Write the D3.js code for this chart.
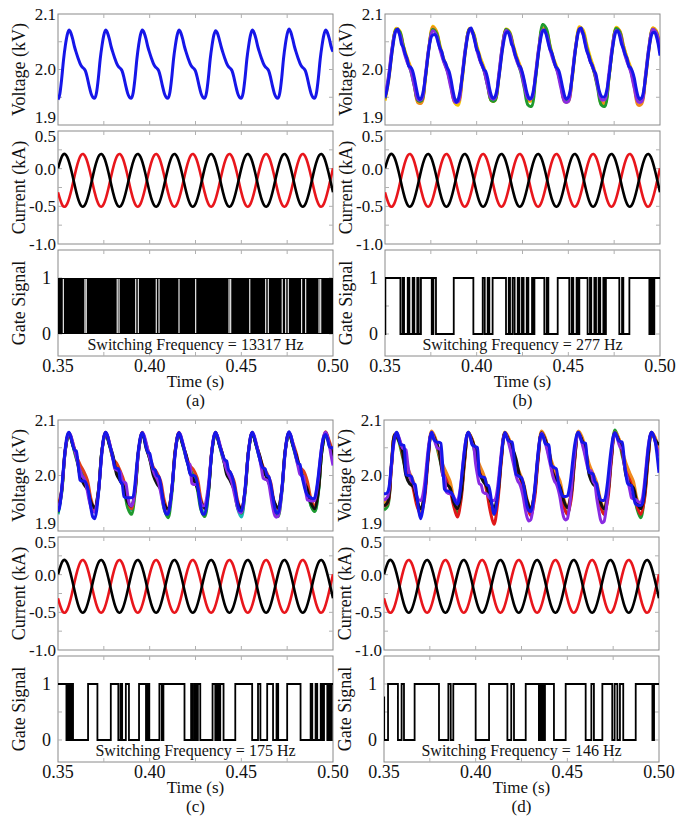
<!DOCTYPE html>
<html>
<head>
<meta charset="utf-8">
<script src="https://cdn.jsdelivr.net/npm/d3@7"></script>
<style>
  body { margin: 0; background: #fff; }
  svg { display: block; }
  text { font-family: "Liberation Serif", "Times New Roman", serif; fill: #111; }
</style>
</head>
<body>
<script>
// ---- shared axis values ----
const timeStart = 0.35, timeEnd = 0.50;
const fineStep = 0.001, coarseStep = 0.002, currentStep = 0.0025;
const xTickValues = [0.35, 0.40, 0.45, 0.50];
const voltTickValues = [1.9, 2.0, 2.1];
const currTickValues = [0.5, 0.0, -0.5, -1.0];
const gateTickValues = [0, 1];
const panelLabels = ['(a)', '(b)', '(c)', '(d)'];
const switchingFreqHz = [13317, 277, 175, 146];

// ---- currents (kA), sampled every 2.5 ms, same in all four panels ----
const currBlack = [
  0.004, 0.178, 0.157, -0.047, -0.314, -0.488, -0.467, -0.263,
  0.004, 0.178, 0.157, -0.047, -0.314, -0.488, -0.467, -0.263,
  0.004, 0.178, 0.157, -0.047, -0.314, -0.488, -0.467, -0.263,
  0.004, 0.178, 0.157, -0.047, -0.314, -0.488, -0.467, -0.263,
  0.004, 0.178, 0.157, -0.047, -0.314, -0.488, -0.467, -0.263,
  0.004, 0.178, 0.157, -0.047, -0.314, -0.488, -0.467, -0.263,
  0.004, 0.178, 0.157, -0.047, -0.314, -0.488, -0.467, -0.263,
  0.004, 0.178, 0.157, -0.047, -0.314];
const currRed = [
  -0.314, -0.488, -0.467, -0.263, 0.004, 0.178, 0.157, -0.047,
  -0.314, -0.488, -0.467, -0.263, 0.004, 0.178, 0.157, -0.047,
  -0.314, -0.488, -0.467, -0.263, 0.004, 0.178, 0.157, -0.047,
  -0.314, -0.488, -0.467, -0.263, 0.004, 0.178, 0.157, -0.047,
  -0.314, -0.488, -0.467, -0.263, 0.004, 0.178, 0.157, -0.047,
  -0.314, -0.488, -0.467, -0.263, 0.004, 0.178, 0.157, -0.047,
  -0.314, -0.488, -0.467, -0.263, 0.004, 0.178, 0.157, -0.047,
  -0.314, -0.488, -0.467, -0.263, 0.004];

// ---- voltages (kV): blue/purple every 1 ms, others every 2 ms ----
const voltA_blue = [
  1.946,1.956,1.983,2.017,2.043,2.062,2.071,2.066,2.055,2.041,2.030,2.020,2.011,2.005,2.002,1.997,1.985,1.970,1.957,1.950,
  1.948,1.958,1.984,2.018,2.043,2.062,2.071,2.066,2.055,2.041,2.030,2.020,2.011,2.005,2.002,1.997,1.985,1.970,1.957,1.950,
  1.948,1.958,1.984,2.018,2.044,2.063,2.071,2.066,2.055,2.041,2.030,2.020,2.011,2.005,2.002,1.997,1.985,1.970,1.957,1.950,
  1.948,1.958,1.984,2.018,2.043,2.062,2.071,2.066,2.055,2.041,2.030,2.020,2.011,2.005,2.002,1.997,1.985,1.970,1.957,1.950,
  1.948,1.958,1.984,2.018,2.043,2.062,2.070,2.065,2.054,2.041,2.030,2.020,2.011,2.005,2.002,1.997,1.985,1.970,1.957,1.950,
  1.948,1.958,1.984,2.018,2.043,2.062,2.071,2.066,2.055,2.041,2.030,2.020,2.011,2.005,2.002,1.997,1.985,1.970,1.957,1.950,
  1.948,1.958,1.984,2.019,2.045,2.064,2.073,2.067,2.055,2.041,2.030,2.020,2.011,2.005,2.002,1.997,1.985,1.970,1.957,1.950,
  1.948,1.958,1.984,2.018,2.043,2.062,2.071,2.066,2.055,2.041,2.032];

const voltB_blue = [
  1.950,1.962,1.982,2.008,2.035,2.057,2.070,2.073,2.062,2.046,2.040,2.028,2.020,2.006,2.004,1.998,1.985,1.968,1.952,1.946,
  1.950,1.963,1.985,2.012,2.038,2.056,2.062,2.063,2.060,2.048,2.038,2.032,2.018,2.012,2.003,1.996,1.982,1.963,1.948,1.941,
  1.947,1.962,1.983,2.010,2.037,2.058,2.072,2.075,2.064,2.050,2.036,2.030,2.016,2.008,2.000,1.996,1.984,1.966,1.953,1.948,
  1.951,1.962,1.982,2.008,2.034,2.054,2.066,2.068,2.060,2.046,2.040,2.026,2.018,2.008,2.004,1.994,1.980,1.964,1.952,1.947,
  1.950,1.963,1.984,2.010,2.036,2.057,2.069,2.071,2.062,2.048,2.036,2.030,2.018,2.006,2.002,1.996,1.982,1.966,1.952,1.947,
  1.950,1.962,1.983,2.011,2.038,2.060,2.073,2.075,2.064,2.048,2.034,2.026,2.014,2.008,1.998,1.992,1.975,1.960,1.952,1.950,
  1.952,1.963,1.983,2.009,2.035,2.056,2.068,2.070,2.060,2.046,2.038,2.027,2.020,2.006,2.003,1.996,1.984,1.966,1.952,1.947,
  1.949,1.960,1.982,2.010,2.037,2.057,2.066,2.067,2.060,2.046,2.025];
const voltB_orange = [
  1.946,1.984,2.038,2.072,2.066,2.042,2.020,2.002,1.972,1.940,
  1.940,1.984,2.040,2.076,2.068,2.040,2.018,1.998,1.970,1.942,
  1.942,1.983,2.038,2.073,2.066,2.040,2.016,2.000,1.972,1.944,
  1.945,1.985,2.040,2.072,2.065,2.042,2.020,2.002,1.975,1.946,
  1.946,1.986,2.040,2.074,2.068,2.040,2.018,1.998,1.972,1.944,
  1.944,1.984,2.040,2.075,2.068,2.040,2.016,1.996,1.970,1.942,
  1.940,1.982,2.038,2.073,2.070,2.044,2.020,2.000,1.968,1.936,
  1.938,1.980,2.036,2.074,2.068,2.035];
const voltB_yellow = [
  1.944,1.980,2.036,2.074,2.070,2.044,2.022,2.004,1.976,1.942,
  1.942,1.982,2.040,2.078,2.070,2.044,2.020,2.002,1.975,1.940,
  1.936,1.978,2.036,2.074,2.068,2.044,2.022,2.004,1.978,1.944,
  1.944,1.982,2.036,2.073,2.068,2.044,2.022,2.004,1.976,1.944,
  1.944,1.982,2.038,2.075,2.070,2.044,2.020,2.002,1.974,1.942,
  1.942,1.980,2.038,2.077,2.072,2.046,2.022,2.002,1.974,1.938,
  1.938,1.980,2.036,2.076,2.070,2.044,2.022,2.004,1.978,1.944,
  1.944,1.982,2.038,2.075,2.070,2.040];
const voltB_green = [
  1.948,1.986,2.040,2.072,2.068,2.042,2.016,1.998,1.970,1.944,
  1.944,1.986,2.040,2.072,2.066,2.040,2.016,1.998,1.972,1.946,
  1.946,1.986,2.040,2.072,2.066,2.040,2.016,1.998,1.970,1.944,
  1.944,1.986,2.040,2.072,2.066,2.040,2.016,1.996,1.966,1.936,
  1.934,1.980,2.040,2.081,2.074,2.042,2.016,1.998,1.972,1.944,
  1.946,1.986,2.040,2.072,2.066,2.040,2.016,1.996,1.966,1.936,
  1.934,1.980,2.038,2.074,2.068,2.040,2.016,1.998,1.972,1.944,
  1.944,1.986,2.040,2.072,2.066,2.036];
const voltB_purple = [
  1.950,1.990,2.042,2.070,2.064,2.036,2.014,1.998,1.970,1.946,
  1.946,1.990,2.042,2.070,2.062,2.036,2.014,1.996,1.966,1.942,
  1.942,1.988,2.042,2.071,2.064,2.036,2.014,1.998,1.970,1.948,
  1.948,1.990,2.042,2.070,2.064,2.036,2.014,1.998,1.970,1.948,
  1.948,1.990,2.042,2.071,2.064,2.036,2.014,1.996,1.966,1.942,
  1.942,1.988,2.042,2.071,2.064,2.036,2.014,1.998,1.970,1.946,
  1.946,1.990,2.042,2.070,2.064,2.036,2.014,1.996,1.966,1.942,
  1.942,1.988,2.042,2.072,2.066,2.036];

const voltC_blue = [
  1.935,1.945,1.975,2.015,2.050,2.072,2.078,2.070,2.056,2.046,2.044,2.020,1.992,1.990,1.990,1.988,1.980,1.965,1.940,1.925,
  1.922,1.935,1.965,2.005,2.045,2.070,2.078,2.072,2.058,2.045,2.030,2.015,2.013,2.012,1.990,1.985,1.962,1.960,1.960,1.960,
  1.960,1.962,1.985,2.020,2.050,2.070,2.077,2.068,2.052,2.042,2.040,2.025,2.012,2.010,2.000,1.998,1.985,1.962,1.940,1.930,
  1.930,1.945,1.972,2.008,2.042,2.068,2.077,2.070,2.058,2.045,2.030,2.018,2.003,2.000,2.000,1.998,1.985,1.962,1.940,1.930,
  1.930,1.945,1.972,2.010,2.045,2.070,2.078,2.070,2.056,2.045,2.035,2.028,2.026,2.010,2.006,1.998,1.985,1.968,1.948,1.937,
  1.936,1.948,1.975,2.012,2.046,2.070,2.078,2.070,2.057,2.043,2.030,2.018,2.013,2.012,2.000,1.998,1.985,1.965,1.945,1.933,
  1.932,1.945,1.972,2.010,2.046,2.070,2.079,2.072,2.058,2.045,2.032,2.022,2.020,2.000,1.985,1.972,1.965,1.962,1.960,1.958,
  1.960,1.975,2.000,2.030,2.055,2.070,2.074,2.066,2.052,2.050,2.050];
const voltC_purple = [
  1.945,1.950,1.972,2.010,2.046,2.068,2.076,2.072,2.060,2.046,2.034,2.020,2.010,2.000,1.996,1.988,1.972,1.955,1.942,1.935,
  1.934,1.945,1.968,2.005,2.042,2.068,2.077,2.072,2.060,2.046,2.030,2.012,2.010,2.008,2.006,1.990,1.988,1.986,1.965,1.948,
  1.945,1.952,1.975,2.010,2.045,2.068,2.077,2.072,2.060,2.046,2.032,2.020,2.008,2.000,1.994,1.985,1.970,1.953,1.940,1.932,
  1.932,1.946,1.972,2.008,2.043,2.068,2.077,2.072,2.060,2.046,2.030,2.022,2.020,1.986,1.984,1.984,1.983,1.965,1.950,1.945,
  1.946,1.958,1.982,2.015,2.048,2.070,2.077,2.071,2.060,2.046,2.032,2.020,2.010,2.002,1.995,1.985,1.970,1.955,1.942,1.934,
  1.933,1.945,1.972,2.010,2.045,2.069,2.077,2.072,2.060,2.045,2.030,2.012,1.995,1.993,1.992,1.985,1.965,1.945,1.930,1.925,
  1.926,1.940,1.968,2.006,2.043,2.068,2.077,2.072,2.060,2.046,2.030,2.015,2.002,2.000,1.998,1.975,1.956,1.955,1.954,1.954,
  1.955,1.970,1.995,2.028,2.056,2.072,2.078,2.070,2.055,2.035,2.018];
const voltC_orange = [
  1.945,1.974,2.048,2.077,2.060,2.036,2.020,2.008,1.992,1.958,
  1.938,1.970,2.046,2.078,2.060,2.030,2.022,2.008,1.990,1.955,
  1.940,1.972,2.048,2.078,2.058,2.035,2.015,2.005,1.990,1.955,
  1.938,1.972,2.048,2.078,2.058,2.035,2.018,2.010,1.995,1.958,
  1.940,1.972,2.048,2.078,2.058,2.035,2.015,2.005,1.990,1.955,
  1.938,1.972,2.048,2.078,2.058,2.035,2.015,2.004,1.988,1.952,
  1.940,1.972,2.048,2.078,2.060,2.040,2.015,2.008,1.990,1.958,
  1.945,1.975,2.050,2.079,2.062,2.040];
const voltC_green = [
  1.932,1.968,2.045,2.076,2.055,2.030,2.010,1.998,1.980,1.945,
  1.935,1.968,2.045,2.076,2.055,2.030,2.010,1.998,1.978,1.942,
  1.930,1.966,2.045,2.076,2.055,2.030,2.010,1.998,1.975,1.938,
  1.924,1.964,2.044,2.076,2.055,2.030,2.010,1.998,1.975,1.938,
  1.926,1.966,2.045,2.076,2.055,2.030,2.010,1.998,1.978,1.942,
  1.932,1.968,2.045,2.076,2.055,2.030,2.010,1.998,1.975,1.938,
  1.926,1.966,2.045,2.076,2.055,2.030,2.010,1.998,1.980,1.945,
  1.935,1.968,2.045,2.076,2.055,2.030];
const voltC_black = [
  1.935,1.972,2.046,2.077,2.056,2.036,2.000,1.985,1.975,1.952,
  1.942,1.972,2.046,2.077,2.056,2.036,2.002,1.990,1.978,1.952,
  1.945,1.974,2.046,2.077,2.050,2.030,2.000,1.985,1.975,1.948,
  1.940,1.972,2.046,2.077,2.056,2.036,2.005,1.992,1.978,1.952,
  1.942,1.972,2.046,2.077,2.056,2.036,2.002,1.990,1.975,1.950,
  1.940,1.972,2.046,2.077,2.056,2.036,2.010,1.995,1.978,1.952,
  1.942,1.972,2.046,2.077,2.056,2.036,2.012,1.990,1.975,1.950,
  1.940,1.972,2.046,2.077,2.056,2.036];
const voltC_cyan = [
  1.930,1.970,2.046,2.076,2.056,2.032,2.012,2.000,1.982,1.946,
  1.940,1.970,2.046,2.076,2.056,2.032,2.012,2.000,1.982,1.946,
  1.938,1.970,2.046,2.076,2.056,2.032,2.012,2.000,1.982,1.946,
  1.935,1.970,2.046,2.076,2.056,2.032,2.012,2.000,1.982,1.944,
  1.930,1.968,2.046,2.076,2.056,2.032,2.012,2.000,1.980,1.940,
  1.925,1.968,2.046,2.076,2.056,2.032,2.012,2.000,1.982,1.946,
  1.935,1.970,2.046,2.076,2.056,2.032,2.012,2.000,1.982,1.946,
  1.936,1.970,2.046,2.076,2.056,2.045];

const voltD_blue = [
  1.967,1.967,1.970,1.985,2.020,2.052,2.072,2.078,2.068,2.056,2.055,2.054,2.002,2.000,2.000,1.998,1.986,1.984,1.960,1.935,
  1.922,1.935,1.960,1.995,2.035,2.065,2.078,2.066,2.062,2.060,2.060,2.058,2.020,1.975,1.972,1.972,1.970,1.968,1.960,1.952,
  1.948,1.958,1.985,2.018,2.048,2.070,2.078,2.070,2.056,2.053,2.052,2.050,2.002,1.998,1.997,1.996,1.983,1.982,1.968,1.945,
  1.930,1.940,1.965,2.000,2.035,2.063,2.077,2.068,2.062,2.061,2.060,2.030,2.002,2.000,1.998,1.996,1.985,1.965,1.945,1.937,
  1.935,1.945,1.970,2.005,2.040,2.066,2.075,2.068,2.057,2.056,2.055,2.020,2.016,2.014,2.012,1.990,1.975,1.965,1.962,1.962,
  1.963,1.975,1.998,2.028,2.055,2.072,2.078,2.070,2.060,2.059,2.058,2.020,2.005,2.004,2.003,1.990,1.985,1.968,1.957,1.955,
  1.955,1.965,1.990,2.022,2.050,2.070,2.077,2.070,2.062,2.061,2.060,2.030,2.000,1.985,1.983,1.982,1.965,1.950,1.947,1.946,
  1.946,1.950,1.975,2.010,2.045,2.070,2.078,2.072,2.060,2.035,2.005];
const voltD_purple = [
  1.955,1.958,1.962,1.980,2.015,2.048,2.070,2.077,2.070,2.060,2.050,2.048,2.046,2.020,2.000,1.990,1.988,1.975,1.962,1.956,
  1.955,1.962,1.982,2.012,2.045,2.068,2.078,2.070,2.058,2.050,2.048,2.047,2.000,1.998,1.970,1.968,1.967,1.966,1.962,1.956,
  1.955,1.965,1.988,2.020,2.050,2.070,2.077,2.070,2.058,2.050,2.020,2.000,1.985,1.983,1.970,1.968,1.967,1.962,1.958,1.955,
  1.955,1.960,1.980,2.010,2.042,2.066,2.077,2.070,2.058,2.045,2.030,2.015,2.000,1.990,1.985,1.975,1.960,1.940,1.925,1.918,
  1.920,1.935,1.965,2.000,2.038,2.065,2.076,2.070,2.058,2.045,2.030,2.015,2.000,1.990,1.985,1.975,1.960,1.940,1.925,1.920,
  1.922,1.940,1.968,2.005,2.040,2.066,2.077,2.070,2.058,2.045,2.030,2.015,2.010,2.008,1.990,1.985,1.960,1.940,1.922,1.915,
  1.917,1.935,1.965,2.000,2.038,2.065,2.076,2.070,2.058,2.050,2.049,2.020,2.005,1.990,1.975,1.960,1.958,1.957,1.955,1.952,
  1.952,1.960,1.985,2.018,2.050,2.070,2.077,2.072,2.060,2.048,2.035];
const voltD_orange = [
  1.950,1.958,2.020,2.075,2.068,2.045,2.022,2.005,1.990,1.958,
  1.935,1.968,2.035,2.080,2.068,2.040,2.020,2.005,1.990,1.960,
  1.940,1.968,2.035,2.078,2.066,2.040,2.020,2.005,1.985,1.955,
  1.938,1.966,2.035,2.078,2.068,2.045,2.022,2.005,1.988,1.958,
  1.940,1.968,2.035,2.080,2.068,2.042,2.020,2.005,1.990,1.960,
  1.942,1.968,2.035,2.080,2.070,2.045,2.020,2.004,1.988,1.958,
  1.940,1.968,2.035,2.078,2.068,2.045,2.022,2.005,1.990,1.958,
  1.942,1.968,2.035,2.078,2.068,2.045];
const voltD_green = [
  1.938,1.945,2.015,2.074,2.062,2.035,2.010,1.998,1.980,1.950,
  1.932,1.962,2.030,2.078,2.062,2.035,2.010,1.998,1.980,1.950,
  1.930,1.962,2.030,2.078,2.062,2.035,2.010,1.998,1.980,1.948,
  1.930,1.960,2.030,2.078,2.062,2.035,2.010,1.998,1.980,1.950,
  1.932,1.962,2.030,2.078,2.062,2.035,2.010,1.998,1.978,1.946,
  1.930,1.962,2.030,2.078,2.062,2.035,2.010,1.998,1.980,1.950,
  1.930,1.962,2.032,2.082,2.066,2.035,2.010,1.998,1.975,1.940,
  1.924,1.958,2.030,2.078,2.062,2.035];
const voltD_red = [
  1.945,1.950,2.012,2.072,2.066,2.040,2.012,2.000,1.975,1.945,
  1.930,1.955,2.025,2.076,2.066,2.040,2.012,2.000,1.975,1.945,
  1.925,1.955,2.025,2.076,2.066,2.040,2.012,2.000,1.972,1.935,
  1.912,1.950,2.025,2.076,2.066,2.040,2.012,2.000,1.975,1.945,
  1.928,1.955,2.025,2.076,2.066,2.040,2.012,2.000,1.975,1.945,
  1.930,1.955,2.025,2.076,2.066,2.040,2.012,2.000,1.975,1.945,
  1.930,1.955,2.025,2.076,2.066,2.040,2.012,2.000,1.975,1.945,
  1.930,1.955,2.025,2.076,2.066,2.045];
const voltD_black = [
  1.945,1.952,2.015,2.074,2.064,2.045,2.000,1.985,1.980,1.955,
  1.940,1.965,2.032,2.077,2.064,2.045,2.002,1.985,1.978,1.952,
  1.940,1.965,2.032,2.077,2.064,2.045,2.005,1.990,1.980,1.955,
  1.942,1.965,2.032,2.077,2.064,2.050,2.030,2.000,1.985,1.955,
  1.940,1.965,2.032,2.077,2.064,2.045,2.005,1.990,1.980,1.955,
  1.942,1.965,2.032,2.077,2.064,2.045,2.000,1.985,1.978,1.952,
  1.940,1.965,2.032,2.077,2.064,2.045,2.000,1.985,1.978,1.952,
  1.940,1.965,2.032,2.077,2.064,2.055];

// ---- gate signals: [switch time (s), new level] ----
const gateA_span = [0.35, 0.50];
const gateA_gaps = [0.3529, 0.3647, 0.3654, 0.3823, 0.3833, 0.3924, 0.3938, 0.4036, 0.4051, 0.4160,
  0.4251, 0.4433, 0.4442, 0.4546, 0.4633, 0.4647, 0.4723, 0.4742, 0.4756, 0.4829, 0.4851, 0.4924, 0.4933];
const gateB = [[0.35,0],[0.3502,1],[0.3584,0],[0.3596,1],[0.3604,0],[0.3624,1],[0.3633,0],[0.3651,1],[0.3660,0],
  [0.3676,1],[0.3684,0],[0.3696,1],[0.3755,0],[0.3764,1],[0.3778,0],[0.3875,1],[0.3982,0],[0.4033,1],[0.4044,0],
  [0.4060,1],[0.4069,0],[0.4087,1],[0.4160,0],[0.4175,1],[0.4182,0],[0.4196,1],[0.4207,0],[0.4224,1],[0.4233,0],
  [0.4247,1],[0.4256,0],[0.4273,1],[0.4282,0],[0.4302,1],[0.4309,0],[0.4315,1],[0.4369,0],[0.4382,1],[0.4391,0],
  [0.4442,1],[0.4505,0],[0.4518,1],[0.4527,0],[0.4545,1],[0.4553,0],[0.4560,1],[0.4605,0],[0.4618,1],[0.4625,0],
  [0.4642,1],[0.4651,0],[0.4665,1],[0.4674,0],[0.4691,1],[0.4700,0],[0.4705,1],[0.4778,0],[0.4793,1],[0.4800,0],
  [0.4833,1],[0.4942,0],[0.4951,1],[0.4960,0],[0.4969,1],[0.50,1]];
const gateC = [[0.35,1],[0.3546,0],[0.3555,1],[0.3564,0],[0.3573,1],[0.3582,0],[0.3664,1],[0.3715,0],[0.3788,1],
  [0.3829,0],[0.3841,1],[0.3850,0],[0.3870,1],[0.3887,0],[0.3942,1],[0.3980,0],[0.3989,1],[0.3998,0],[0.4053,1],
  [0.4066,0],[0.4075,1],[0.4190,0],[0.4226,1],[0.4235,0],[0.4245,1],[0.4254,0],[0.4263,1],[0.4276,0],[0.4343,1],
  [0.4358,0],[0.4367,1],[0.4376,0],[0.4385,1],[0.4403,0],[0.4467,1],[0.4559,0],[0.4591,1],[0.4604,0],[0.4641,1],
  [0.4673,0],[0.4692,1],[0.4701,0],[0.4750,1],[0.4823,0],[0.4878,1],[0.4887,0],[0.4905,1],[0.4914,0],[0.4933,1],
  [0.4942,0],[0.4951,1],[0.4969,0],[0.4978,1],[0.4987,0],[0.4993,1],[0.50,1]];
const gateD = [[0.35,0.76],[0.3501,0],[0.3522,1],[0.3576,0],[0.3596,1],[0.3609,0],[0.3667,1],[0.3800,0],[0.3851,1],
  [0.3864,0],[0.3878,1],[0.4000,0],[0.4073,1],[0.4173,0],[0.4194,1],[0.4209,0],[0.4273,1],[0.4345,0],[0.4351,1],
  [0.4360,0],[0.4365,1],[0.4373,0],[0.4378,1],[0.4427,0],[0.4491,1],[0.4600,0],[0.4631,1],[0.4645,0],[0.4691,1],
  [0.4745,0],[0.4758,1],[0.4773,0],[0.4787,1],[0.4805,0],[0.4873,1],[0.4964,0],[0.4973,1],[0.50,1]];

// ---- layout ----
const W = 693, H = 820, plotW = 275;
const voltBox = [14, 125], currBox = [131, 244], gateBox = [250, 356];
const cBlue = '#1616e8', cPurple = '#8a2be2', cOrange = '#f08a1c', cYellow = '#f2c400',
      cGreen = '#1f9a2e', cRedV = '#e0401a', cCyan = '#1cb8b8';

const panels = [
  { x0: 58, y0: 0, volt: [{ v: voltA_blue, step: fineStep, c: cBlue }], gate: null },
  { x0: 385, y0: 0, volt: [
      { v: voltB_yellow, step: coarseStep, c: cYellow }, { v: voltB_orange, step: coarseStep, c: cOrange },
      { v: voltB_green, step: coarseStep, c: cGreen }, { v: voltB_purple, step: coarseStep, c: cPurple },
      { v: voltB_blue, step: fineStep, c: cBlue }], gate: gateB },
  { x0: 58, y0: 406, volt: [
      { v: voltC_cyan, step: coarseStep, c: cCyan }, { v: voltC_green, step: coarseStep, c: cGreen },
      { v: voltC_orange, step: coarseStep, c: cRedV }, { v: voltC_black, step: coarseStep, c: '#111' },
      { v: voltC_purple, step: fineStep, c: cPurple }, { v: voltC_blue, step: fineStep, c: cBlue }], gate: gateC },
  { x0: 384, y0: 406, volt: [
      { v: voltD_green, step: coarseStep, c: cGreen }, { v: voltD_red, step: coarseStep, c: '#e01818' },
      { v: voltD_orange, step: coarseStep, c: cOrange }, { v: voltD_black, step: coarseStep, c: '#111' },
      { v: voltD_purple, step: fineStep, c: cPurple }, { v: voltD_blue, step: fineStep, c: cBlue }], gate: gateD }
];

const svg = d3.select('body').append('svg').attr('width', W).attr('height', H);
let clipN = 0;

function series(values, step) {
  return values.map((v, i) => [timeStart + i * step, v]);
}

// grey frame with small inward ticks, returns a clipped group
function frame(g, x, y, box, yMinor) {
  g.append('rect').attr('x', 0).attr('y', box[0]).attr('width', plotW).attr('height', box[1] - box[0])
    .attr('fill', 'none').attr('stroke', '#8a8a8a').attr('stroke-width', 1);
  const minorX = [0.375, 0.40, 0.425, 0.45, 0.475];
  const tk = g.append('g').attr('stroke', '#b0b0b0').attr('stroke-width', 1);
  minorX.forEach(t => {
    tk.append('line').attr('x1', x(t)).attr('x2', x(t)).attr('y1', box[0]).attr('y2', box[0] + 4);
    tk.append('line').attr('x1', x(t)).attr('x2', x(t)).attr('y1', box[1]).attr('y2', box[1] - 4);
  });
  yMinor.forEach(v => {
    tk.append('line').attr('x1', 0).attr('x2', 4).attr('y1', y(v)).attr('y2', y(v));
    tk.append('line').attr('x1', plotW).attr('x2', plotW - 4).attr('y1', y(v)).attr('y2', y(v));
  });
  const id = 'clip' + (clipN++);
  g.append('clipPath').attr('id', id).append('rect')
    .attr('x', 0).attr('y', box[0]).attr('width', plotW).attr('height', box[1] - box[0]);
  return g.append('g').attr('clip-path', `url(#${id})`);
}

// nudge keeps the bottom voltage label and top current label apart
function yLabels(g, y, ticks, fmt, dx, nudge) {
  g.selectAll(null).data(ticks).join('text')
    .attr('x', -dx).attr('y', d => y(d) + nudge(d)).attr('dy', '0.35em')
    .attr('text-anchor', 'end').attr('font-size', 17).text(fmt);
}

function yTitle(g, text, box) {
  g.append('text').attr('transform', `translate(-33,${(box[0] + box[1]) / 2}) rotate(-90)`)
    .attr('text-anchor', 'middle').attr('font-size', 18).text(text);
}

panels.forEach((p, pi) => {
  const g = svg.append('g').attr('transform', `translate(${p.x0},${p.y0})`);
  const x = d3.scaleLinear().domain([timeStart, timeEnd]).range([0, plotW]);

  // voltage
  const yV = d3.scaleLinear().domain([1.9, 2.1]).range([voltBox[1], voltBox[0]]);
  const gv = frame(g, x, yV, voltBox, [1.95, 2.0, 2.05]);
  p.volt.forEach(s => {
    const curve = s.step === fineStep ? d3.curveMonotoneX : d3.curveCatmullRom;
    gv.append('path').datum(series(s.v, s.step))
      .attr('d', d3.line().x(d => x(d[0])).y(d => yV(d[1])).curve(curve))
      .attr('fill', 'none').attr('stroke', s.c).attr('stroke-width', 3)
      .attr('stroke-linejoin', 'round');
  });
  yLabels(g, yV, voltTickValues, d => d.toFixed(1), 2, d => (d === 1.9 ? -8 : 0));
  yTitle(g, 'Voltage (kV)', voltBox);

  // current
  const yC = d3.scaleLinear().domain([-1.0, 0.5]).range([currBox[1], currBox[0]]);
  const gc = frame(g, x, yC, currBox, [-0.75, -0.5, -0.25, 0, 0.25]);
  [[currRed, '#e8161c'], [currBlack, '#000']].forEach(([vals, col]) => {
    gc.append('path').datum(series(vals, currentStep))
      .attr('d', d3.line().x(d => x(d[0])).y(d => yC(d[1])).curve(d3.curveNatural))
      .attr('fill', 'none').attr('stroke', col).attr('stroke-width', 2.6);
  });
  yLabels(g, yC, currTickValues, d => d.toFixed(1), 2, d => (d === 0.5 ? 5 : 0));
  yTitle(g, 'Current (kA)', currBox);

  // gate
  const yG = d3.scaleLinear().domain([-0.393, 1.5]).range([gateBox[1], gateBox[0]]);
  const gg = frame(g, x, yG, gateBox, [0, 0.5, 1]);
  if (p.gate === null) {
    gg.append('path').datum(gateA_span)
      .attr('d', d3.area().x(d => x(d)).y0(yG(0)).y1(yG(1)))
      .attr('fill', '#000');
    gg.selectAll(null).data(gateA_gaps).join('line')
      .attr('x1', d => x(d)).attr('x2', d => x(d)).attr('y1', yG(1) + 1).attr('y2', yG(0) - 1)
      .attr('stroke', '#fff').attr('stroke-width', 1.1);
  } else {
    gg.append('path').datum(p.gate)
      .attr('d', d3.line().x(d => x(d[0])).y(d => yG(d[1])).curve(d3.curveStepAfter))
      .attr('fill', 'none').attr('stroke', '#000').attr('stroke-width', 1.8);
  }
  g.selectAll(null).data(gateTickValues).join('text')
    .attr('x', -7).attr('y', d => yG(d)).attr('dy', '0.35em')
    .attr('text-anchor', 'end').attr('font-size', 18).text(d => d);
  yTitle(g, 'Gate Signal', gateBox);

  g.append('text').attr('x', plotW / 2).attr('y', 350).attr('text-anchor', 'middle')
    .attr('font-size', 16).text(`Switching Frequency = ${switchingFreqHz[pi]} Hz`);

  // x axis labels
  g.selectAll(null).data(xTickValues).join('text')
    .attr('x', d => x(d)).attr('y', 372).attr('text-anchor', 'middle')
    .attr('font-size', 18).text(d => d.toFixed(2));
  g.append('text').attr('x', plotW / 2).attr('y', 387).attr('text-anchor', 'middle')
    .attr('font-size', 17).text('Time (s)');
  g.append('text').attr('x', plotW / 2).attr('y', 406).attr('text-anchor', 'middle')
    .attr('font-size', 17).text(panelLabels[pi]);
});
</script>
</body>
</html>
